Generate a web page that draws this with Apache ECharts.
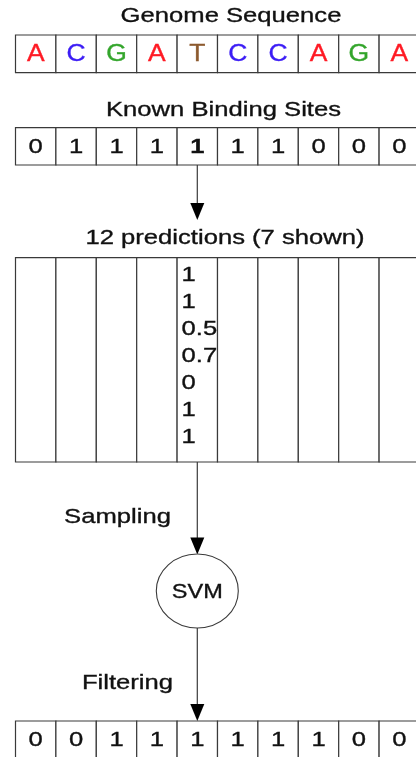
<!DOCTYPE html>
<html>
<head>
<meta charset="utf-8">
<script src="https://cdn.jsdelivr.net/npm/echarts@6/dist/echarts.min.js"></script>
<style>
html,body{margin:0;padding:0;background:#fff;}
#main{width:416px;height:757px;}
</style>
</head>
<body>
<div id="main"></div>
<script>
// ---------- data ----------
var genome = ['A','C','G','A','T','C','C','A','G','A'];
var knownSites = [0,1,1,1,1,1,1,0,0,0];
var predictions = [1,1,0.5,0.7,0,1,1];
var filtered = [0,0,1,1,1,1,1,1,0,0];
var focusCol = 4;   // column followed through the pipeline
var titles = ['Genome Sequence','Known Binding Sites','12 predictions (7 shown)'];
var stepLabels = ['Sampling','Filtering'];
var nodeName = 'SVM';

// ---------- look ----------
var baseColor = {A:'#ff1a24', C:'#3b1cf5', G:'#33a52b', T:'#8c5a2e'};
var FONT = '"Liberation Sans", Arial, Helvetica, sans-serif';
var LINE = '#3a3a3a';
var SX = 1.22;      // the figure is stretched sideways
var FS = 21;
var cellW = 40.4, gridLeft = 15.5;  // last cell runs off the right edge

// rows: [top, bottom] in pixels (y axis runs top-down)
var rowGenome = [35, 72.7];
var rowKnown = [127.7, 165];
var rowPred = [257.7, 462];
var rowFinal = [721, 758];
var predFirstY = 275, predStep = 27.1;
var nodeY = 591;

var cells = [];
genome.forEach(function(b, i){
	cells.push({col:i, row:rowGenome, text:b, color:baseColor[b], size:23, sx:1.15});
});
knownSites.forEach(function(v, i){
	cells.push({col:i, row:rowKnown, text:String(v), color:'#111', size:FS, sx:SX, bold:i==focusCol});
});
for (var i = 0; i < genome.length; i++) {
	cells.push({col:i, row:rowPred, text:null});
}
filtered.forEach(function(v, i){
	cells.push({col:i, row:rowFinal, text:String(v), color:'#111', size:FS, sx:SX});
});

// connectors: [x, from, to]
var links = [[focusCol+0.5, rowKnown[1], 220], [focusCol+0.5, rowPred[1], 554.5], [focusCol+0.5, 628, rowFinal[0]]];

function txt(x, y, s, size, sx, opt){
	opt = opt || {};
	var col = opt.color || '#111';
	return {
		type:'text', x:x, y:y, scaleX:sx,
		style:{text:s, fontSize:size, fontFamily:FONT, fontWeight:opt.bold?'bold':'normal',
			fill:col, stroke:col, lineWidth:0.35,
			align:opt.align||'center', verticalAlign:'middle'}
	};
}

var option = {
	animation:false,
	grid:{left:gridLeft, top:0, right:0, bottom:0, outerBoundsMode:'none'},
	xAxis:{type:'value', min:0, max:(416-gridLeft)/cellW, show:false},
	yAxis:{type:'value', min:0, max:757, inverse:true, show:false},
	graphic:[
		txt(231, 16, titles[0], FS, SX),
		txt(223.5, 110, titles[1], FS, SX),
		txt(225, 238, titles[2], FS, SX),
		txt(117.5, 517, stepLabels[0], FS, SX),
		txt(127.5, 683, stepLabels[1], FS, SX)
	],
	series:[
		{
			type:'custom',
			data:cells.map(function(c){ return [c.col, c.row[0], c.row[1]]; }),
			renderItem:function(params, api){
				var c = cells[params.dataIndex];
				var p0 = api.coord([api.value(0), api.value(1)]);
				var p1 = api.coord([api.value(0)+1, api.value(2)]);
				var kids = [{
					type:'rect',
					shape:{x:p0[0], y:p0[1], width:p1[0]-p0[0], height:p1[1]-p0[1]},
					style:{fill:'#fff', stroke:LINE, lineWidth:1.2}
				}];
				if (c.text != null) {
					kids.push(txt((p0[0]+p1[0])/2, (p0[1]+p1[1])/2+0.5, c.text, c.size, c.sx, {color:c.color, bold:c.bold}));
				}
				return {type:'group', children:kids};
			}
		},
		{
			// the 7 shown predictions stacked in the focus column
			type:'custom',
			data:predictions.map(function(v, i){ return [focusCol, predFirstY + i*predStep]; }),
			renderItem:function(params, api){
				var p = api.coord([api.value(0), api.value(1)]);
				return txt(p[0]+4.5, p[1], String(predictions[params.dataIndex]), FS, SX, {align:'left'});
			},
			z:3
		},
		{
			type:'custom',
			data:links,
			renderItem:function(params, api){
				var a = api.coord([api.value(0), api.value(1)]);
				var b = api.coord([api.value(0), api.value(2)]);
				var h = 17, w = 7;
				return {type:'group', children:[
					{type:'line', shape:{x1:a[0], y1:a[1], x2:b[0], y2:b[1]-h+1}, style:{stroke:LINE, lineWidth:1.2}},
					{type:'polygon', shape:{points:[[b[0]-w, b[1]-h], [b[0]+w, b[1]-h], [b[0], b[1]]]}, style:{fill:'#000'}}
				]};
			},
			z:2
		},
		{
			type:'custom',
			data:[[focusCol+0.5, nodeY]],
			renderItem:function(params, api){
				var p = api.coord([api.value(0), api.value(1)]);
				return {type:'group', children:[
					{type:'circle', x:p[0], y:p[1], scaleY:74/82, shape:{cx:0, cy:0, r:41},
						style:{fill:'#fff', stroke:LINE, lineWidth:1.1}},
					txt(p[0], p[1]+1, nodeName, FS, 1.12)
				]};
			},
			z:4
		}
	]
};

var myChart = echarts.init(document.getElementById('main'));
myChart.setOption(option);
</script>
</body>
</html>
